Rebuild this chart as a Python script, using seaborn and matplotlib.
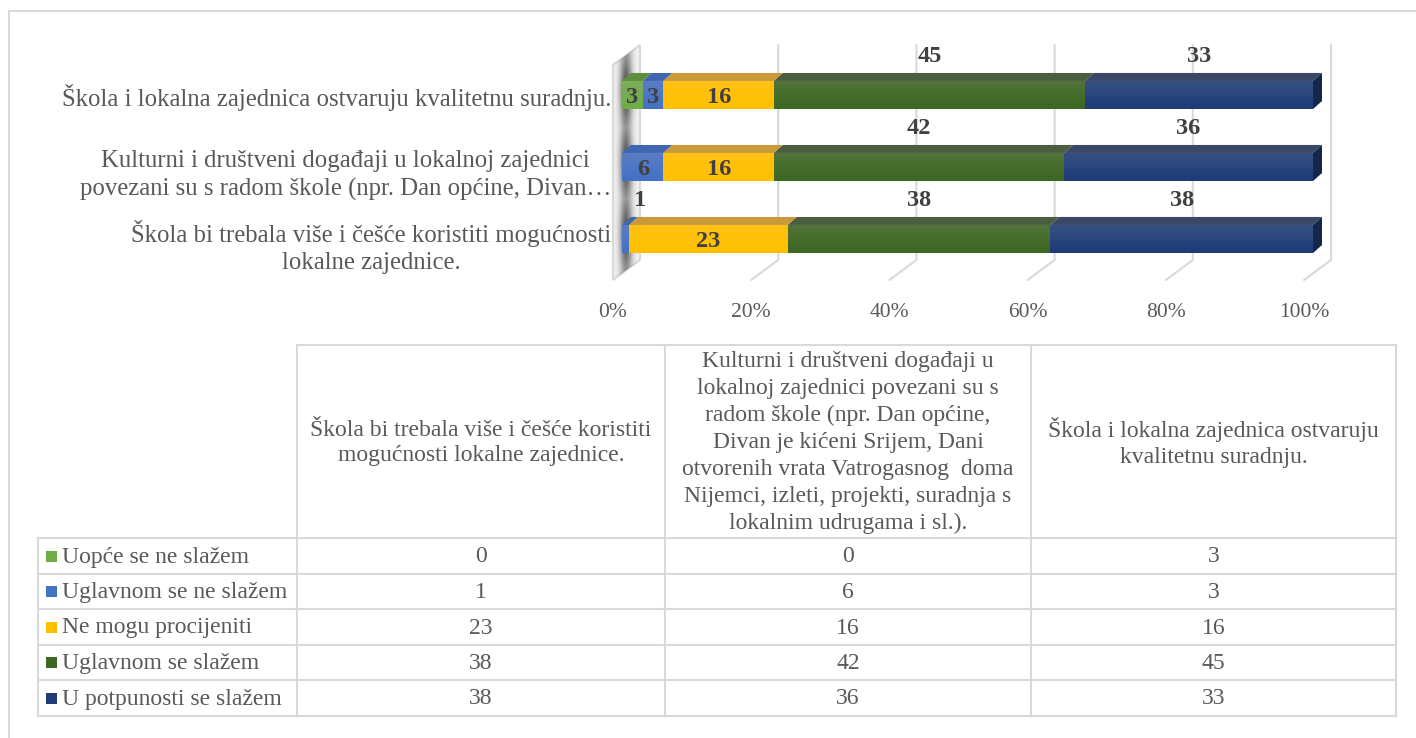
import matplotlib
matplotlib.use("Agg")
import matplotlib.pyplot as plt
import numpy as np
import pandas as pd
import seaborn as sns
from matplotlib.patches import Polygon, Rectangle
from matplotlib.transforms import ScaledTranslation

W, H = 1416, 738

# categories in data-table order (Excel draws the first one at the bottom)
AXIS_LABELS = [
    "Škola bi trebala više i češće koristiti mogućnosti\nlokalne zajednice.",
    "Kulturni i društveni događaji u lokalnoj zajednici\npovezani su s radom škole (npr. Dan općine, Divan…",
    "Škola i lokalna zajednica ostvaruju kvalitetnu suradnju.",
]
HEADER_LABELS = [
    "Škola bi trebala više i češće koristiti\nmogućnosti lokalne zajednice.",
    "Kulturni i društveni događaji u\nlokalnoj zajednici povezani su s\nradom škole (npr. Dan općine,\n"
    "Divan je kićeni Srijem, Dani\notvorenih vrata Vatrogasnog  doma\n"
    "Nijemci, izleti, projekti, suradnja s\nlokalnim udrugama i sl.).",
    "Škola i lokalna zajednica ostvaruju\nkvalitetnu suradnju.",
]
SERIES = [
    "Uopće se ne slažem",
    "Uglavnom se ne slažem",
    "Ne mogu procijeniti",
    "Uglavnom se slažem",
    "U potpunosti se slažem",
]
UOPCE = [0, 0, 3]
UGLAVNOM_NE = [1, 6, 3]
NE_MOGU = [23, 16, 16]
UGLAVNOM_DA = [38, 42, 45]
POTPUNO = [38, 36, 33]
TICKS = [0, 20, 40, 60, 80, 100]

FRONT = ["#70AD47", "#4472C4", "#FFC000", "#3D6823", "#203C78"]
TOP = ["#5E8F3E", "#3F66AE", "#C99A3A", "#4B5E3F", "#3A4868"]
END_FACE = "#16264A"
GRID = "#D9D9D9"
TEXT = "#595959"
LABEL = "#404040"

values = [UOPCE, UGLAVNOM_NE, NE_MOGU, UGLAVNOM_DA, POTPUNO]
rows = []
for c, lab in enumerate(AXIS_LABELS):
    cum = 0
    for s, name in enumerate(SERIES):
        v = values[s][c]
        rows.append({"label": lab, "series": name, "s": s, "value": v, "left": cum, "end": cum + v})
        cum += v
df = pd.DataFrame(rows)
order = AXIS_LABELS[::-1]

sns.set_theme(style="white")
plt.rcParams["font.family"] = ["Liberation Serif", "DejaVu Serif"]

fig = plt.figure(figsize=(W / 100, H / 100), dpi=100)
bg = fig.add_axes([0, 0, 1, 1], zorder=0)
bg.set_xlim(0, W)
bg.set_ylim(H, 0)
bg.axis("off")

# bar axes: 0% -> x 622 px, 100% -> x 1313 px, rows 72 px apart
ax_l, ax_r, ax_t, ax_b = 622, 1313, 59, 275
ax = fig.add_axes([ax_l / W, 1 - ax_b / H, (ax_r - ax_l) / W, (ax_b - ax_t) / H], zorder=2)
ax.patch.set_alpha(0)

BAR_W = 0.39
for s in range(len(SERIES) - 1, -1, -1):
    sub = df[df["s"] == s]
    sns.barplot(data=sub, x="end", y="label", order=order, color=FRONT[s],
                saturation=1, width=BAR_W, linewidth=0, ax=ax, zorder=2)

ax.set_xlim(0, 100)
ax.set_ylim(2.5, -0.5)
sns.despine(ax=ax, left=True, bottom=True)
ax.set_xlabel("")
ax.set_ylabel("")

px_x = (ax_r - ax_l) / 100
px_y = (ax_b - ax_t) / 3
dx, dy = 9 / px_x, 8 / px_y
h = BAR_W / 2

# 3d top faces, end faces and value labels
for _, r in df.iterrows():
    if r["value"] <= 0:
        continue
    y = order.index(r["label"])
    yt = y - h
    ax.add_patch(Polygon([(r["left"], yt), (r["end"], yt), (r["end"] + dx, yt - dy),
                          (r["left"] + dx, yt - dy)], closed=True, facecolor=TOP[r["s"]],
                         edgecolor="none", zorder=3, clip_on=False))
    # soft vertical gradient on the front face
    for k in range(10):
        ax.add_patch(Rectangle((r["left"], yt), r["value"], 2 * h * (k + 1) / 12,
                               facecolor="white", alpha=0.012, edgecolor="none", zorder=3))
    if r["end"] == 100:
        ax.add_patch(Polygon([(100, yt), (100 + dx, yt - dy), (100 + dx, y + h - dy), (100, y + h)],
                             closed=True, facecolor=END_FACE, edgecolor="none", zorder=3, clip_on=False))
    cx = (r["left"] + r["end"]) / 2
    if r["s"] >= 3:
        ax.text(cx, y - 0.54, f"{r['value']}", ha="center", va="center", fontsize=17.5,
                fontweight="bold", color=LABEL, zorder=4)
    elif r["value"] < 2:
        ax.text(r["left"] + 2.6, y - 0.54, f"{r['value']}", ha="center", va="center", fontsize=17.5,
                fontweight="bold", color=LABEL, zorder=4)
    else:
        ax.text(cx, y + 0.03, f"{r['value']}", ha="center", va="center", fontsize=17.5,
                fontweight="bold", color=LABEL, zorder=4)

ax.set_xticks(TICKS, labels=[f"{t}%" for t in TICKS])
ax.tick_params(axis="x", length=0, pad=20, labelsize=15.5, labelcolor=TEXT)
ax.tick_params(axis="y", length=0, pad=8, labelsize=17.8, labelcolor=TEXT)
for lab in ax.get_xticklabels():
    lab.set_transform(lab.get_transform() + ScaledTranslation(-9 / 100, 0, fig.dpi_scale_trans))
for lab in ax.get_yticklabels():
    lab.set_multialignment("center")
    lab.set_linespacing(1.3)
    if "\n" in lab.get_text():
        lab.set_transform(lab.get_transform() + ScaledTranslation(0, -3 / 100, fig.dpi_scale_trans))

# back wall and gridlines (in pixel space of the background axes)
fig.canvas.draw()


def to_px(x, y):
    d = ax.transData.transform((x, y))
    return d[0], H - d[1]


grid_top, grid_bot, diag_bot = 45, 260, 280
for t in TICKS:
    fx = to_px(t, 0)[0] - 9
    bx = fx + 27
    if t == 0:
        wall = Polygon([(fx, diag_bot - 215), (bx, grid_top), (bx, grid_bot), (fx, diag_bot)],
                       closed=True, facecolor="#F2F2F2", edgecolor=GRID, lw=1.5, zorder=1)
        bg.add_patch(wall)
        # blurred shadow of the bar ends on the wall
        xs = np.arange(fx, bx + 1)
        ys = np.arange(grid_top, diag_bot + 1)
        gx = np.exp(-((xs - (fx + 13)) ** 2) / (2 * 4.5 ** 2))
        gy = np.zeros_like(ys, dtype=float)
        for i in range(3):
            yc = to_px(0, i)[1]
            gy = np.maximum(gy, np.exp(-((ys - (yc - 4)) ** 2) / (2 * 24 ** 2)))
        gy = 0.35 + 0.65 * gy
        alpha = np.outer(gy, gx) * 0.85
        img = np.zeros((len(ys), len(xs), 4))
        img[..., :3] = 0.2
        img[..., 3] = alpha
        im = bg.imshow(img, extent=(fx, bx, diag_bot, grid_top), aspect="auto",
                       interpolation="bilinear", zorder=2)
        im.set_clip_path(wall)
    else:
        bg.plot([bx, bx, fx], [grid_top, grid_bot, diag_bot], color=GRID, lw=1.5, zorder=1)

bg.set_xlim(0, W)
bg.set_ylim(H, 0)

# outer frame
bg.plot([9, 9], [11, H], color=GRID, lw=1.5)
bg.plot([9, W], [11, 11], color=GRID, lw=1.5)

# data table
col_x = [38, 297, 665, 1031, 1396]
head_top, head_bot = 345, 538
row_y = [538, 574, 609, 645, 680, 716]
bg.plot([col_x[1], col_x[-1]], [head_top, head_top], color=GRID, lw=1.5)
for yy in row_y:
    bg.plot([col_x[0], col_x[-1]], [yy, yy], color=GRID, lw=1.5)
bg.plot([col_x[0], col_x[0]], [row_y[0], row_y[-1]], color=GRID, lw=1.5)
for xx in col_x[1:]:
    bg.plot([xx, xx], [head_top, row_y[-1]], color=GRID, lw=1.5)

for c, txt in enumerate(HEADER_LABELS):
    bg.text((col_x[c + 1] + col_x[c + 2]) / 2, (head_top + head_bot) / 2 + 1, txt, ha="center",
            va="center", multialignment="center", fontsize=17, color=TEXT,
            linespacing=1.36 if c == 1 else 1.25)

for s, name in enumerate(SERIES):
    yc = (row_y[s] + row_y[s + 1]) / 2
    bg.add_patch(Rectangle((46, yc - 5.5), 11, 11, facecolor=FRONT[s], edgecolor="none"))
    bg.text(62, yc + 1, name, ha="left", va="center", fontsize=17, color=TEXT)
    for c in range(3):
        bg.text((col_x[c + 1] + col_x[c + 2]) / 2, yc + 1, f"{values[s][c]}", ha="center",
                va="center", fontsize=17, color=TEXT)

fig.savefig("out.png", dpi=100, facecolor="white")
